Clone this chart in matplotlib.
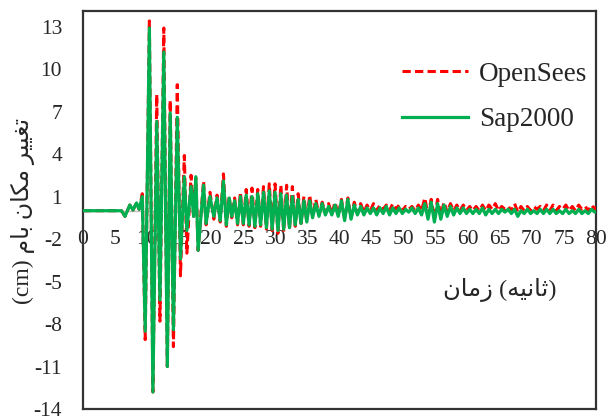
import matplotlib
matplotlib.use("Agg")
import matplotlib.pyplot as plt

# ---- data: extrema times (s) and roof displacement (cm) ----
t_ext = [0, 6.0, 6.55, 7.3, 7.8, 8.35, 8.75, 9.25, 9.7, 10.35, 10.9, 11.5, 12.0, 12.6,
         13.15, 13.6, 14.1, 14.7, 15.2, 15.8, 16.2, 16.85, 17.25, 17.6, 17.95,
         18.8, 19.2, 19.8, 20.4, 20.9, 21.4, 21.9, 22.35, 22.8, 23.2, 23.65, 24.1,
         24.55, 25.0, 25.45, 25.9, 26.35, 26.8, 27.25, 27.7, 28.15, 28.6, 29.05, 29.5,
         29.95, 30.4, 30.85, 31.3, 31.75, 32.2, 32.65, 33.1, 33.55, 34.0, 34.45, 34.9,
         35.35, 35.8, 36.3, 36.8, 37.3, 37.8, 38.3, 38.8, 39.3, 39.8, 40.3, 40.8,
         41.3, 41.8, 42.3, 42.8, 43.3, 43.8, 44.3, 44.8, 45.3, 45.8, 46.3, 46.8,
         47.3, 47.8, 48.3, 48.8, 49.3, 49.8, 50.3, 50.8, 51.3, 51.8, 52.3, 52.8,
         53.3, 53.8, 54.3, 54.8, 55.3, 55.8, 56.3, 56.8, 57.3, 57.8, 58.3, 58.8,
         59.3, 59.8, 60.3, 60.8, 61.3, 61.8, 62.3, 62.8, 63.3, 63.8, 64.3, 64.8,
         65.3, 65.8, 66.3, 66.8, 67.3, 67.8, 68.3, 68.8, 69.3, 69.8, 70.3, 70.8,
         71.3, 71.8, 72.3, 72.8, 73.3, 73.8, 74.3, 74.8, 75.3, 75.8, 76.3, 76.8,
         77.3, 77.8, 78.3, 78.8, 79.3, 79.8, 80.0]

sap2000 = [0, 0, -0.4, 0.4, 0.05, 0.55, 0.1, 1.0, -8.5, 12.9, -12.8, 6.3, -6.3, 11.2,
           -11.0, 6.9, -8.4, 6.6, -3.4, 2.4, -1.4, 1.7, -0.4, 2.4, -2.8,
           1.8, -0.9, 1.0, -0.4, 0.9, -0.7, 2.1, -1.0, 0.9, -0.4, 0.7, -0.9,
           1.0, -0.9, 1.1, -1.0, 1.0, -1.1, 1.2, -1.0, 1.3, -1.2, 1.4, -1.3,
           1.3, -1.4, 1.2, -1.3, 1.1, -1.2, 1.0, -1.0, 0.8, -0.9, 0.7, -0.8,
           0.7, -0.5, 0.5, -0.4, 0.5, -0.3, 0.3, -0.3, 0.4, -0.4, 0.7, -0.7,
           0.8, -0.6, 0.4, -0.3, 0.3, -0.3, 0.2, -0.2, 0.2, -0.3, 0.2, -0.2,
           0.3, -0.3, 0.2, -0.2, 0.2, -0.2, 0.1, -0.1, 0.2, -0.2, 0.2, -0.3,
           0.5, -0.6, 0.6, -0.8, 0.5, -0.6, 0.4, -0.4, 0.3, -0.3, 0.2, -0.2,
           0.2, -0.2, 0.1, -0.2, 0.1, -0.2, 0.2, -0.3, 0.1, -0.2, 0.1, -0.2,
           0.1, -0.1, 0.1, -0.2, 0.1, -0.4, 0.0, -0.2, 0.1, -0.2, 0.0, -0.2,
           0.1, -0.2, 0.1, -0.2, 0.1, -0.2, 0.0, -0.2, 0.1, -0.2, 0.0, -0.2,
           0.1, -0.2, 0.0, -0.2, 0.1, -0.1, -0.1]

opensees = [0, 0, -0.4, 0.4, 0.05, 0.55, 0.1, 1.2, -9.1, 13.4, -12.8, 8.2, -7.8, 12.9,
            -11.0, 7.8, -9.6, 8.9, -4.6, 3.9, -3.0, 2.5, -0.4, 2.3, -2.8,
            2.1, -1.0, 1.3, -0.6, 1.1, -0.8, 2.6, -1.1, 1.0, -0.5, 0.9, -1.0,
            1.3, -1.0, 1.5, -1.1, 1.6, -1.2, 1.5, -1.1, 1.7, -1.3, 1.9, -1.4,
            1.9, -1.6, 1.8, -1.5, 1.8, -1.3, 1.7, -1.1, 1.2, -0.9, 1.0, -0.8,
            1.1, -0.4, 0.8, -0.3, 0.6, -0.2, 0.5, -0.2, 0.6, -0.3, 0.8, -0.6,
            0.9, -0.5, 0.6, -0.2, 0.5, -0.1, 0.4, 0.0, 0.5, 0.0, 0.4, 0.1,
            0.4, 0.0, 0.5, 0.1, 0.4, 0.0, 0.3, 0.1, 0.3, 0.0, 0.4, 0.0,
            0.9, -0.3, 0.8, -0.5, 0.8, -0.3, 0.6, -0.1, 0.5, 0.0, 0.4, 0.0,
            0.4, 0.0, 0.3, 0.0, 0.3, 0.0, 0.4, 0.0, 0.4, 0.1, 0.5, 0.0,
            0.3, 0.1, 0.3, 0.0, 0.5, -0.1, 0.3, 0.0, 0.3, 0.0, 0.3, 0.1,
            0.3, 0.0, 0.4, 0.0, 0.4, 0.0, 0.3, 0.1, 0.4, 0.0, 0.3, 0.0,
            0.4, 0.1, 0.3, 0.0, 0.4, 0.1, 0.3]

x_ticks = list(range(0, 81, 5))
y_ticks = [-14, -11, -8, -5, -2, 1, 4, 7, 10, 13]
series_names = ["OpenSees", "Sap2000"]

# Arabic/Persian labels, pre-shaped (presentation forms) in visual order
ylabel_text = "(cm) \uFEE1\uFE8E\uFE91 \uFEE5\uFE8E\uFB91\uFEE3 \uFEAE\uFBFF\uFBFF\uFED0\uFE97"
xlabel_text = "\uFEE5\uFE8E\uFEE3\uFEAF (\uFEEA\uFBFF\uFEE7\uFE8E\uFE9B)"

plt.rcParams['font.family'] = ['Liberation Serif', 'DejaVu Sans']

fig = plt.figure(figsize=(6.08, 4.17), dpi=100)
ax = fig.add_axes([83 / 608, 1 - 409 / 417, (596 - 83) / 608, (409 - 11) / 417])

ax.plot(t_ext, opensees, color="#FF0000", lw=2.2, linestyle=(0, (2.7, 1.4)),
        label=series_names[0], zorder=3)
ax.plot(t_ext, sap2000, color="#00B050", lw=2.3, label=series_names[1], zorder=4)

ax.set_xlim(0, 80)
ax.set_ylim(-14, 14.1)
ax.set_yticks(y_ticks)
ax.set_yticklabels([str(v) for v in y_ticks])
ax.tick_params(axis='y', length=0, pad=15, labelsize=15.5, colors="#262626")
ax.tick_params(axis='x', bottom=False, labelbottom=False)

for s in ax.spines.values():
    s.set_color("#333333")
    s.set_linewidth(1.6)

sec = ax.secondary_xaxis(0, transform=ax.transData)
sec.set_xticks(x_ticks)
sec.set_xticklabels([str(v) for v in x_ticks])
sec.tick_params(axis='x', length=0, pad=14, labelsize=15.5, colors="#262626")
sec.spines['bottom'].set_color("#BFBFBF")
sec.spines['bottom'].set_linewidth(1.0)

leg = ax.legend(loc='upper left', bbox_to_anchor=(0.622, 0.872), frameon=False,
                fontsize=19.5, handlelength=2.45, handletextpad=0.4,
                labelspacing=0.75, borderpad=0, borderaxespad=0)
for txt in leg.get_texts():
    txt.set_color("#262626")

fig.text(23 / 608, 1 - 211 / 417, ylabel_text, rotation=90, ha='center', va='center',
         fontsize=17, color="#262626")
fig.text(500 / 608, 1 - 290 / 417, xlabel_text, ha='center', va='center',
         fontsize=17.5, color="#262626")

fig.savefig("out.png", dpi=100)
